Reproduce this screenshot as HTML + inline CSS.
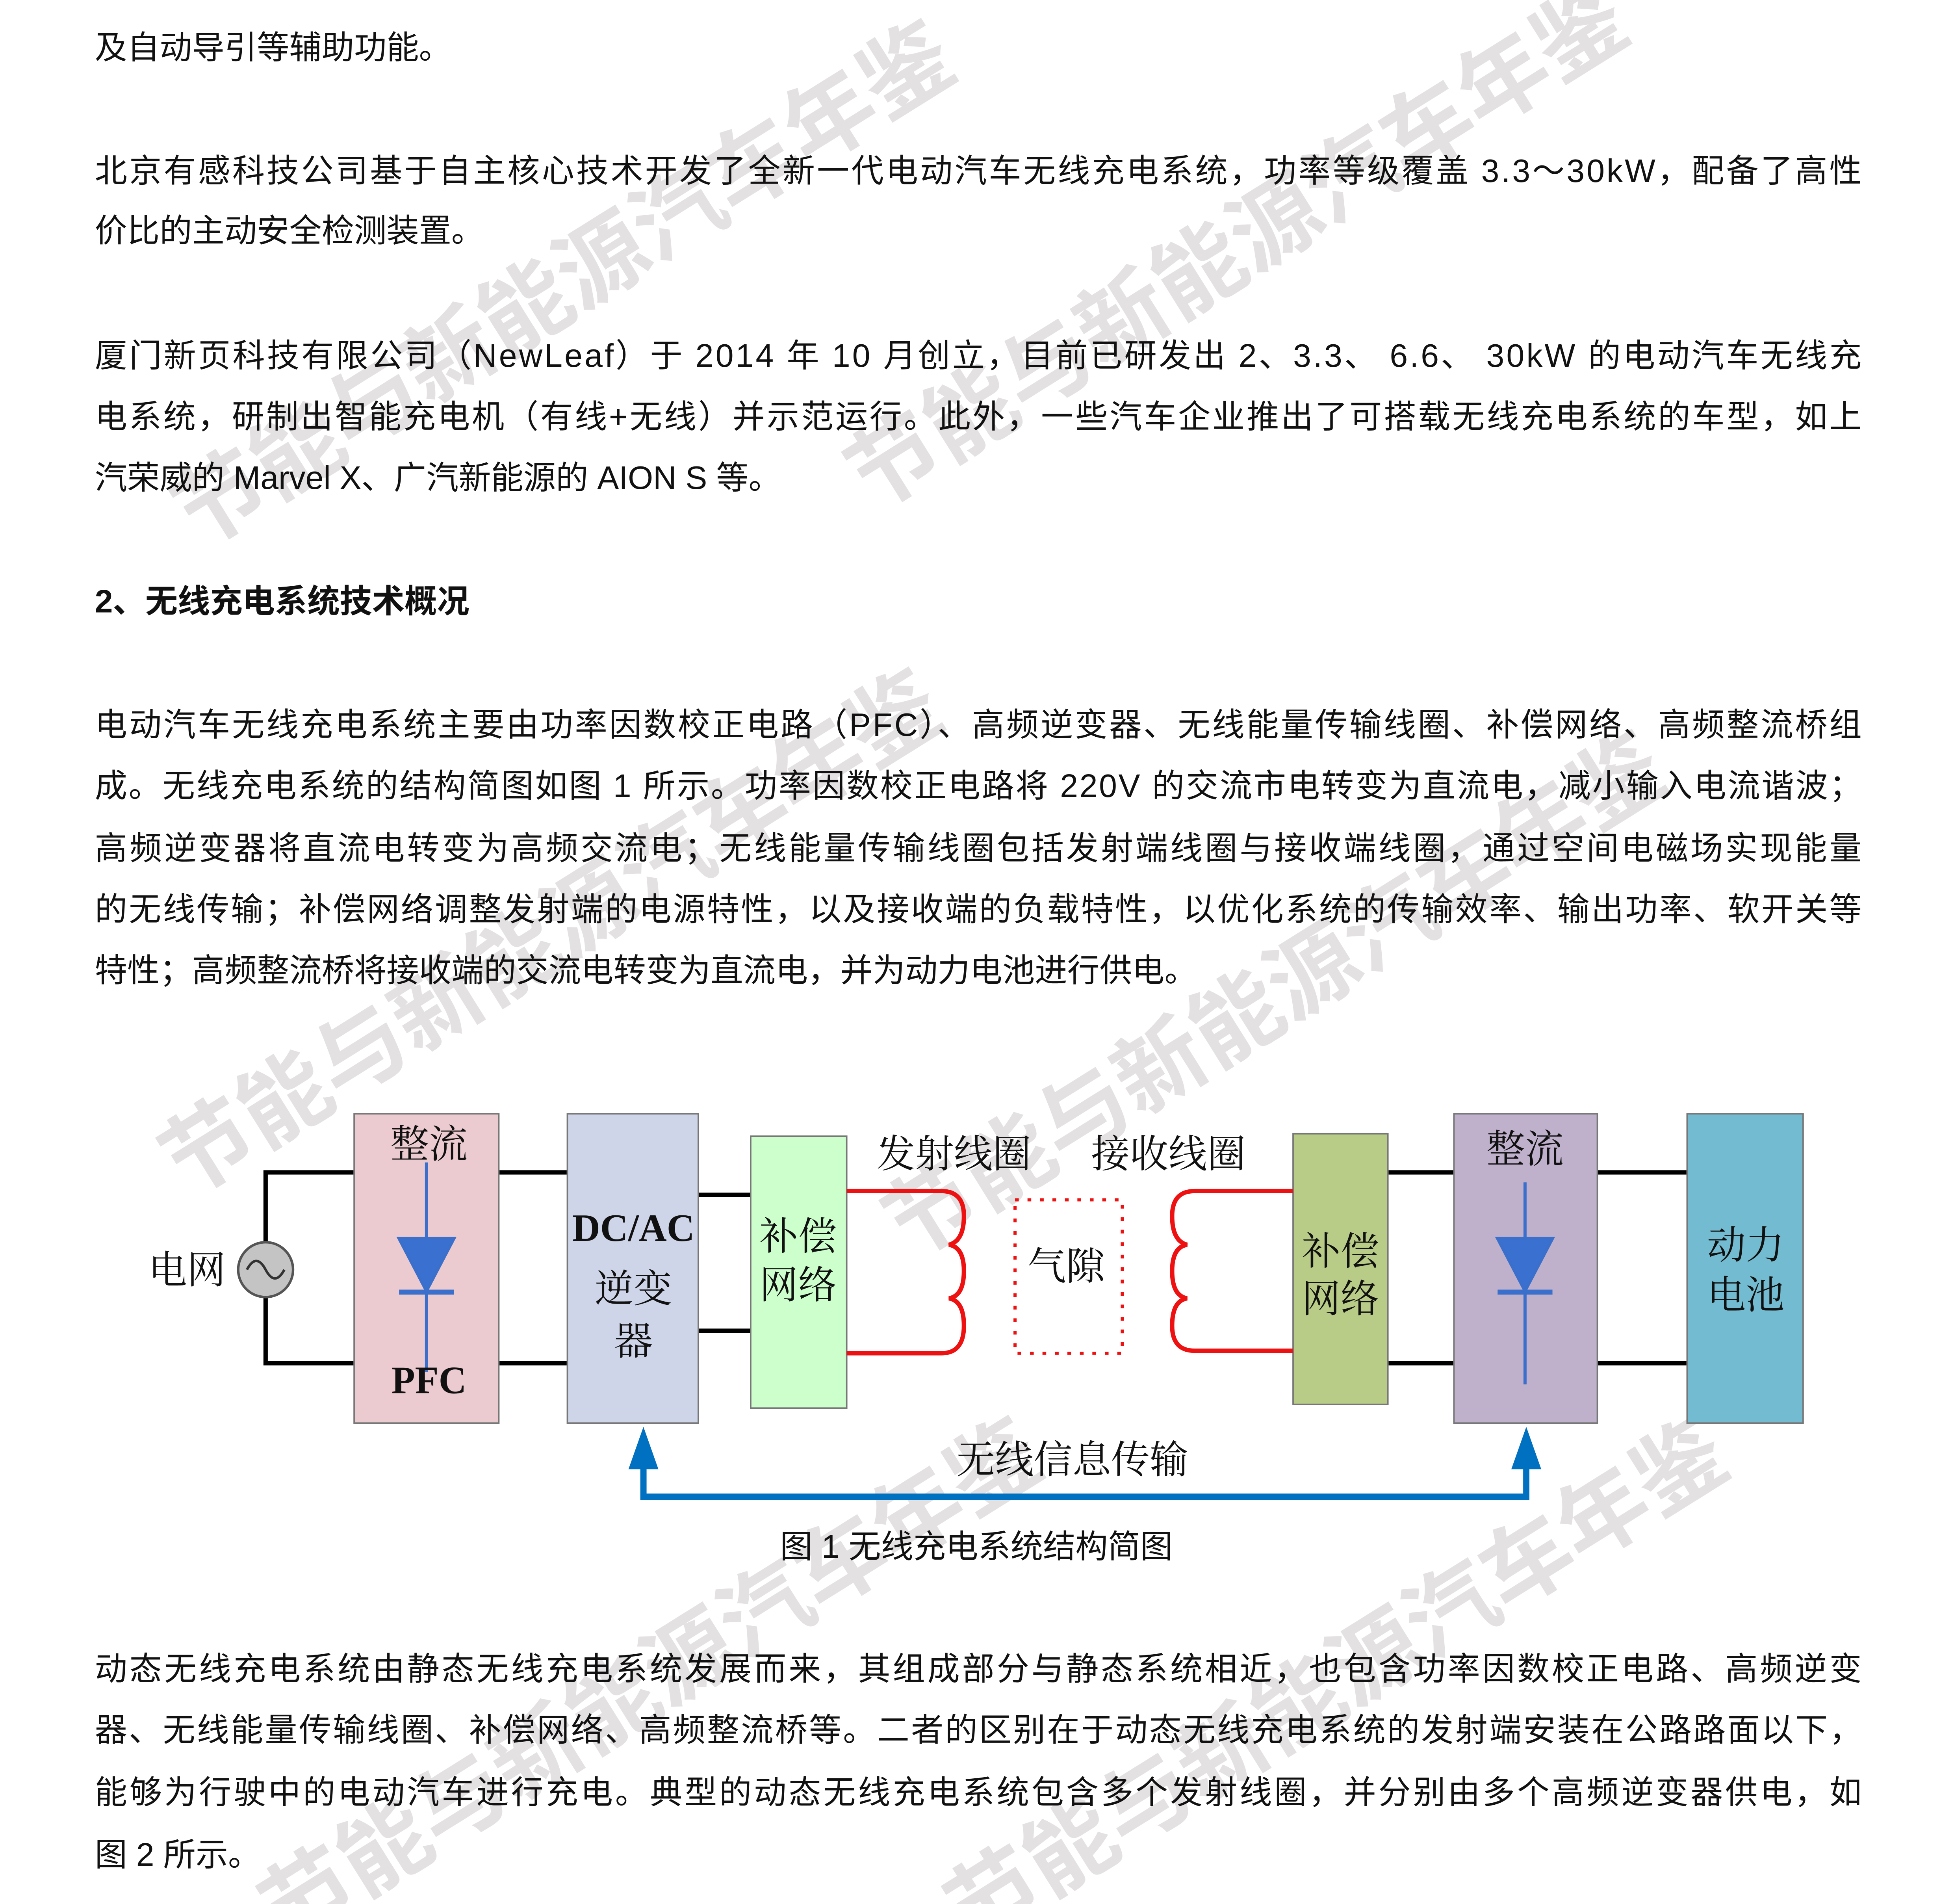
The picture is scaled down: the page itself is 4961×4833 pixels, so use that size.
<!DOCTYPE html>
<html><head><meta charset="utf-8"><style>
html,body{margin:0;padding:0;background:#fff;overflow:hidden;}
svg{display:block;}
.t{font-family:"Liberation Sans","Noto Sans CJK SC",sans-serif;font-size:26px;fill:#111;}
.d{font-family:"Liberation Serif","Noto Serif CJK SC",serif;font-size:31px;fill:#111;}
.w{font-family:"Noto Sans CJK SC",sans-serif;font-size:72px;fill:#cfcacc;font-weight:bold;}
</style></head><body>
<svg width="4961" height="4833" viewBox="0 0 1567 1526.6" xmlns="http://www.w3.org/2000/svg">
<rect width="1567" height="1527" fill="#fff"/>
<g opacity="0.55">
<text class="w" transform="translate(160,440) rotate(-32)">节能与新能源汽车年鉴</text>
<text class="w" transform="translate(700,410) rotate(-32)">节能与新能源汽车年鉴</text>
<text class="w" transform="translate(150,960) rotate(-32)">节能与新能源汽车年鉴</text>
<text class="w" transform="translate(730,1010) rotate(-32)">节能与新能源汽车年鉴</text>
<text class="w" transform="translate(230,1560) rotate(-32)">节能与新能源汽车年鉴</text>
<text class="w" transform="translate(780,1560) rotate(-32)">节能与新能源汽车年鉴</text>
</g>
<g class="t">
<text x="76" y="47">及自动导引等辅助功能。</text>
<text x="76" y="146" textLength="1417" lengthAdjust="spacing">北京有感科技公司基于自主核心技术开发了全新一代电动汽车无线充电系统，功率等级覆盖 3.3～30kW，配备了高性</text>
<text x="76" y="194">价比的主动安全检测装置。</text>
<text x="76" y="294" textLength="1417" lengthAdjust="spacing">厦门新页科技有限公司（NewLeaf）于 2014 年 10 月创立，目前已研发出 2、3.3、 6.6、 30kW 的电动汽车无线充</text>
<text x="76" y="343" textLength="1417" lengthAdjust="spacing">电系统，研制出智能充电机（有线+无线）并示范运行。此外，一些汽车企业推出了可搭载无线充电系统的车型，如上</text>
<text x="76" y="392">汽荣威的 Marvel X、广汽新能源的 AION S 等。</text>
<text x="76" y="491" font-weight="bold">2、无线充电系统技术概况</text>
<text x="76" y="590" textLength="1417" lengthAdjust="spacing">电动汽车无线充电系统主要由功率因数校正电路（PFC）、高频逆变器、无线能量传输线圈、补偿网络、高频整流桥组</text>
<text x="76" y="639" textLength="1417" lengthAdjust="spacing">成。无线充电系统的结构简图如图 1 所示。功率因数校正电路将 220V 的交流市电转变为直流电，减小输入电流谐波；</text>
<text x="76" y="689" textLength="1417" lengthAdjust="spacing">高频逆变器将直流电转变为高频交流电；无线能量传输线圈包括发射端线圈与接收端线圈，通过空间电磁场实现能量</text>
<text x="76" y="738" textLength="1417" lengthAdjust="spacing">的无线传输；补偿网络调整发射端的电源特性，以及接收端的负载特性，以优化系统的传输效率、输出功率、软开关等</text>
<text x="76" y="787">特性；高频整流桥将接收端的交流电转变为直流电，并为动力电池进行供电。</text>
<text x="783" y="1249" text-anchor="middle">图 1  无线充电系统结构简图</text>
<text x="76" y="1347" textLength="1417" lengthAdjust="spacing">动态无线充电系统由静态无线充电系统发展而来，其组成部分与静态系统相近，也包含功率因数校正电路、高频逆变</text>
<text x="76" y="1396" textLength="1417" lengthAdjust="spacing">器、无线能量传输线圈、补偿网络、高频整流桥等。二者的区别在于动态无线充电系统的发射端安装在公路路面以下，</text>
<text x="76" y="1446" textLength="1417" lengthAdjust="spacing">能够为行驶中的电动汽车进行充电。典型的动态无线充电系统包含多个发射线圈，并分别由多个高频逆变器供电，如</text>
<text x="76" y="1496">图 2 所示。</text>
</g>
<g stroke="#000" stroke-width="3.5" fill="none">
<polyline points="284,940 213,940 213,1093 284,1093"/>
<line x1="400" y1="940" x2="455" y2="940"/><line x1="400" y1="1093" x2="455" y2="1093"/>
<line x1="560" y1="958" x2="602" y2="958"/><line x1="560" y1="1067" x2="602" y2="1067"/>
<line x1="1113" y1="940" x2="1166" y2="940"/><line x1="1113" y1="1093" x2="1166" y2="1093"/>
<line x1="1281" y1="940" x2="1353" y2="940"/><line x1="1281" y1="1093" x2="1353" y2="1093"/>
</g>
<circle cx="213" cy="1018" r="22" fill="#c4c4c4" stroke="#555" stroke-width="2"/>
<path d="M198,1018 q7.5,-14 15,0 t15,0" fill="none" stroke="#333" stroke-width="2"/>
<text class="d" x="150" y="1029" text-anchor="middle">电网</text>
<g stroke="#777" stroke-width="1.2">
<rect x="284" y="893" width="116" height="248" fill="#ebcbcf"/>
<rect x="455" y="893" width="105" height="248" fill="#cfd5e9"/>
<rect x="602" y="911" width="77" height="218" fill="#ccffcc"/>
<rect x="1037" y="909" width="76" height="217" fill="#b8cc88"/>
<rect x="1166" y="893" width="115" height="248" fill="#bfb1cc"/>
<rect x="1353" y="893" width="93" height="248" fill="#72bbd0"/>
</g>
<g stroke="#3a6fcc" stroke-width="2.5" fill="#3a70d0">
<line x1="342" y1="932" x2="342" y2="1100"/>
<polygon points="320,993 364,993 342,1035"/>
<line x1="320" y1="1036" x2="364" y2="1036" stroke-width="4"/>
<line x1="1223" y1="948" x2="1223" y2="1110"/>
<polygon points="1201,993 1245,993 1223,1035"/>
<line x1="1201" y1="1036" x2="1245" y2="1036" stroke-width="4"/>
</g>
<g stroke="#ee1111" stroke-width="3.5" fill="none">
<path d="M679,955 L755,955 q18,0 18,20 q0,20 -12,23 q12,2 12,21 q0,20 -12,22 q12,2 12,22 q0,22 -18,22 L679,1085"/>
<path d="M1037,955 L958,955 q-18,0 -18,20 q0,20 12,23 q-12,2 -12,21 q0,20 12,22 q-12,2 -12,22 q0,20 18,20 L1037,1083"/>
<rect x="814" y="962" width="86" height="123" stroke-width="2.5" stroke-dasharray="3,7"/>
</g>
<g class="d">
<text x="344" y="928" text-anchor="middle">整流</text>
<text x="344" y="1117" text-anchor="middle" font-weight="bold">PFC</text>
<text x="508" y="995" text-anchor="middle" font-weight="bold">DC/AC</text>
<text x="508" y="1044" text-anchor="middle">逆变</text>
<text x="508" y="1086" text-anchor="middle">器</text>
<text x="640" y="1002" text-anchor="middle">补偿</text>
<text x="640" y="1041" text-anchor="middle">网络</text>
<text x="765" y="936" text-anchor="middle">发射线圈</text>
<text x="937" y="936" text-anchor="middle">接收线圈</text>
<text x="855" y="1026" text-anchor="middle">气隙</text>
<text x="1075" y="1014" text-anchor="middle">补偿</text>
<text x="1075" y="1052" text-anchor="middle">网络</text>
<text x="1223" y="932" text-anchor="middle">整流</text>
<text x="1400" y="1009" text-anchor="middle">动力</text>
<text x="1400" y="1049" text-anchor="middle">电池</text>
<text x="860" y="1181" text-anchor="middle">无线信息传输</text>
</g>
<polyline points="516,1175 516,1200 1224,1200 1224,1175" fill="none" stroke="#0070c0" stroke-width="5"/>
<polygon points="504,1178 528,1178 516,1144" fill="#0070c0"/>
<polygon points="1212,1178 1236,1178 1224,1144" fill="#0070c0"/>
</svg>
</body></html>
